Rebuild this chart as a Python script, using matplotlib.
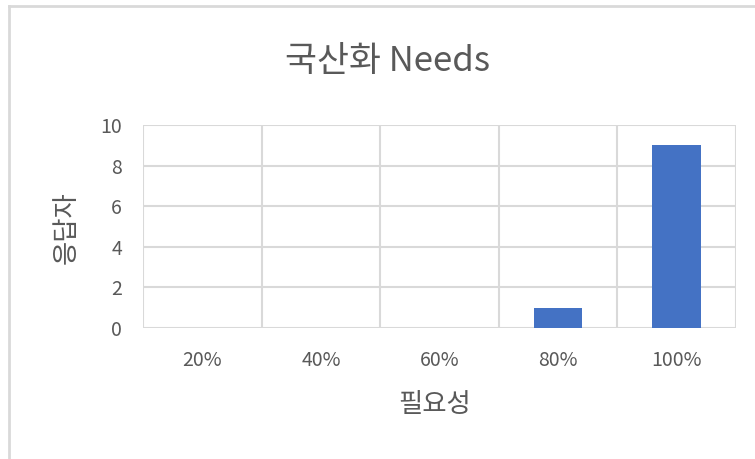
import matplotlib
matplotlib.use("Agg")
import matplotlib.pyplot as plt
from matplotlib.lines import Line2D

plt.rcParams['font.family'] = ['Noto Sans CJK KR', 'DejaVu Sans']

categories = ["20%", "40%", "60%", "80%", "100%"]
respondents = [0, 0, 0, 1, 9]
y_ticks = [0, 2, 4, 6, 8, 10]

title = "국산화 Needs"
x_label = "필요성"
y_label = "응답자"

bar_color = "#4472C4"
grid_color = "#D9D9D9"
text_color = "#595959"

W, H = 755, 459
fig = plt.figure(figsize=(W / 100, H / 100), dpi=100)

# plot area in pixel coordinates
left, right, top, bottom = 143, 736, 125, 328
ax = fig.add_axes([left / W, 1 - bottom / H, (right - left) / W, (bottom - top) / H])

x = list(range(len(categories)))
ax.bar(x, respondents, width=0.41, color=bar_color, zorder=3)

ax.set_xlim(-0.5, len(categories) - 0.5)
ax.set_ylim(0, 10)
ax.set_yticks(y_ticks)
ax.set_xticks(x)
ax.set_xticklabels(categories)

# vertical grid lines at category boundaries
for b in [i - 0.5 for i in range(len(categories) + 1)]:
    ax.axvline(b, color=grid_color, lw=1.5, zorder=1)
for t in y_ticks:
    ax.axhline(t, color=grid_color, lw=1.5, zorder=1)

for s in ax.spines.values():
    s.set_visible(False)

ax.tick_params(axis='both', length=0, colors=text_color, labelsize=14)
ax.tick_params(axis='y', pad=15)
ax.tick_params(axis='x', pad=16)

fig.text(435 / W, 1 - 405 / H, x_label, color=text_color, fontsize=19,
         ha='center', va='center')
fig.text(66 / W, 1 - 228 / H, y_label, color=text_color, fontsize=19,
         ha='center', va='center', rotation=90)

fig.text(387 / W, 1 - 62 / H, title, color=text_color, fontsize=25,
         ha='center', va='center')

# chart frame
fig.add_artist(Line2D([9 / W, 9 / W], [0, 1 - 6 / H], transform=fig.transFigure,
                      color=grid_color, lw=2))
fig.add_artist(Line2D([9 / W, 1], [1 - 6 / H, 1 - 6 / H], transform=fig.transFigure,
                      color=grid_color, lw=2))

fig.savefig("out.png", dpi=100)
